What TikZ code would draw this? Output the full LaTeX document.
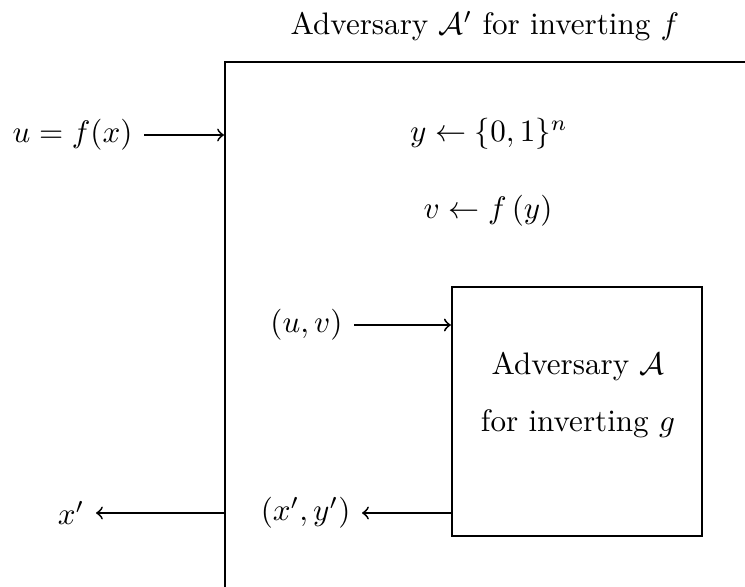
\documentclass[tikz,border=0pt]{standalone}
\usepackage{amsmath}
\usepackage{amssymb}
\usepackage{tikz}
\usetikzlibrary{positioning}

\begin{document}
\begin{tikzpicture}[x=0.0113cm, y=-0.0113cm, >=to, thick]
  \useasboundingbox (0,0) rectangle (745,587);
  \clip (0,0) rectangle (745,587);

  % --- title ---
  \node (title) at (485,26) {Adversary $\mathcal{A}'$ for inverting $f$};

  % --- outer adversary box (runs off the page) ---
  \node[draw, anchor=north west, minimum width=7cm, minimum height=7cm] (outer) at (224,61) {};

  % --- sampled values ---
  \node (ysample) at (489,134) {$y \leftarrow \{0,1\}^n$};
  \node (vsample) at (488,211) {$v \leftarrow f\left(y\right)$};

  % --- inner adversary box ---
  \node[draw, minimum width=2.825cm, minimum height=2.81cm] (inner) at (577,411.5) {};
  \node[align=center] (innerlabel) at (578,395) {Adversary $\mathcal{A}$\\[6.5pt] for inverting $g$};

  % --- inputs and outputs ---
  \node[anchor=east] (uin) at (144,135) {$u = f(x)$};
  \node[anchor=east] (uv) at (354,325) {$(u,v)$};
  \node[anchor=east] (xy) at (362,513) {$(x',y')$};
  \node[anchor=east] (xout) at (96,513) {$x'$};

  \draw[->, semithick] (uin.east) -- (uin.east -| outer.west);
  \draw[->, semithick] (uv.east) -- (uv.east -| inner.west);
  \draw[->, semithick] (xy.east -| inner.west) -- (xy.east);
  \draw[->, semithick] (xout.east -| outer.west) -- (xout.east);
\end{tikzpicture}
\end{document}
